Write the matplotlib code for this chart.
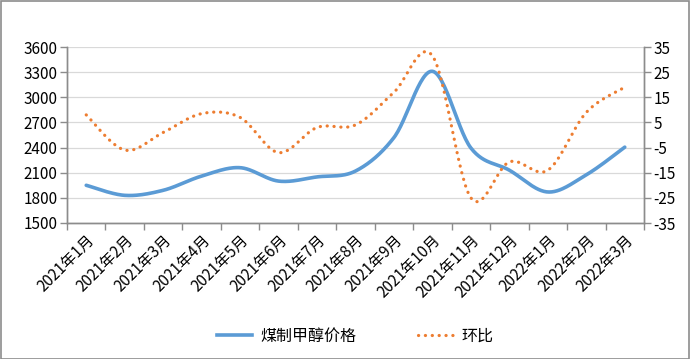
import numpy as np
import matplotlib
matplotlib.use("Agg")
import matplotlib.pyplot as plt
from matplotlib.lines import Line2D
from matplotlib.patches import Rectangle

plt.rcParams['font.family'] = ['Noto Sans CJK SC', 'DejaVu Sans']

categories = ["2021年1月", "2021年2月", "2021年3月", "2021年4月", "2021年5月",
              "2021年6月", "2021年7月", "2021年8月", "2021年9月", "2021年10月",
              "2021年11月", "2021年12月", "2022年1月", "2022年2月", "2022年3月"]
price = [1950, 1830, 1890, 2060, 2160, 2000, 2050, 2120, 2520, 3310,
         2395, 2130, 1870, 2075, 2405]
mom = [8, -6, 1, 8.5, 7, -7, 3, 4, 17, 31.5, -25, -10.7, -14, 9, 19]

left_ticks = [1500, 1800, 2100, 2400, 2700, 3000, 3300, 3600]
right_ticks = [-35, -25, -15, -5, 5, 15, 25, 35]


def smooth(x, y, n=30):
    x = np.asarray(x, float)
    y = np.asarray(y, float)
    px = np.concatenate([[x[0]], x, [x[-1]]])
    py = np.concatenate([[y[0]], y, [y[-1]]])
    xs, ys = [], []
    for i in range(1, len(px) - 2):
        p0 = np.array([px[i], py[i]])
        p3 = np.array([px[i + 1], py[i + 1]])
        p1 = p0 + (np.array([px[i + 1], py[i + 1]]) - np.array([px[i - 1], py[i - 1]])) / 6
        p2 = p3 - (np.array([px[i + 2], py[i + 2]]) - np.array([px[i], py[i]])) / 6
        t = np.linspace(0, 1, n)[:, None]
        pts = (1 - t) ** 3 * p0 + 3 * (1 - t) ** 2 * t * p1 + 3 * (1 - t) * t ** 2 * p2 + t ** 3 * p3
        if i > 1:
            pts = pts[1:]
        xs.append(pts[:, 0])
        ys.append(pts[:, 1])
    return np.concatenate(xs), np.concatenate(ys)


fig = plt.figure(figsize=(6.9, 3.59), dpi=100)
fig.patches.append(Rectangle((0.001, 0.001), 0.997, 0.996, transform=fig.transFigure,
                             fill=False, edgecolor='#8c8c8c', linewidth=1.2))
ax = fig.add_axes([67 / 690, 1 - 223 / 359, (644 - 67) / 690, (223 - 47) / 359])
ax2 = ax.twinx()

x = np.arange(len(categories))
blue = '#5B9BD5'
orange = '#ED7D31'

sx, sy = smooth(x, price)
ax.plot(sx, sy, color=blue, linewidth=2.6, solid_capstyle='round', zorder=3)
ox, oy = smooth(x, mom)
ax2.plot(ox, oy, color=orange, linewidth=2.3, linestyle=(0, (0.05, 2.1)),
         dash_capstyle='round', zorder=3)

ax.set_xlim(-0.5, len(categories) - 0.5)
ax.set_ylim(1500, 3600)
ax2.set_ylim(-35, 35)
ax.set_yticks(left_ticks)
ax2.set_yticks(right_ticks)
ax.set_yticklabels([str(v) for v in left_ticks], fontsize=11)
ax2.set_yticklabels([str(v) for v in right_ticks], fontsize=11)
ax.grid(axis='y', color='#d9d9d9', linewidth=0.9)
ax.set_axisbelow(True)

ax.set_xticks(x)
ax.set_xticklabels(categories, rotation=45, ha='right', va='top', fontsize=11,
                   rotation_mode='anchor')
ax.tick_params(axis='x', length=0, pad=6)
ax.set_xticks(np.arange(-0.5, len(categories), 1), minor=True)
ax.tick_params(axis='x', which='minor', length=5, color='#8c8c8c', width=1)
ax.tick_params(axis='y', length=5, color='#8c8c8c', width=1, pad=2)
ax2.tick_params(axis='y', length=5, color='#8c8c8c', width=1, pad=2)

for a in (ax, ax2):
    for s in ['top']:
        a.spines[s].set_visible(False)
    for s in ['left', 'right', 'bottom']:
        a.spines[s].set_color('#8c8c8c')
        a.spines[s].set_linewidth(1)

handles = [Line2D([], [], color=blue, linewidth=2.6),
           Line2D([], [], color=orange, linewidth=2.3, linestyle=(0, (0.05, 2.1)),
                  dash_capstyle='round')]
fig.legend(handles, ['煤制甲醇价格', '环比'], loc='center', bbox_to_anchor=(0.515, 1 - 336 / 359),
           ncol=2, frameon=False, fontsize=11.5, handlelength=2.2, columnspacing=3.9,
           handletextpad=0.5)

fig.savefig('out.png', dpi=100)
